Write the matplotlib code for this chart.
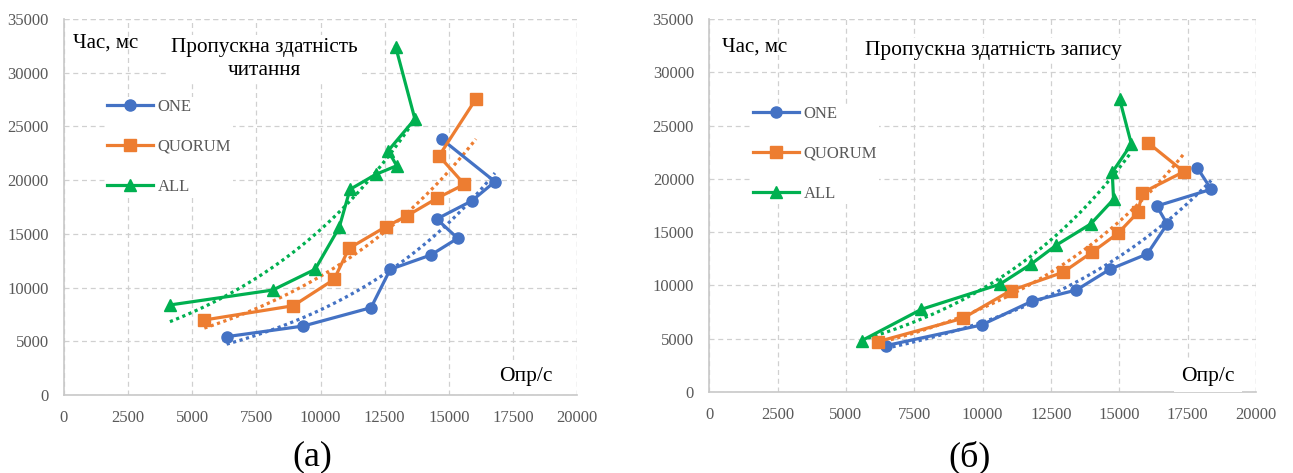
import numpy as np
import matplotlib
matplotlib.use("Agg")
import matplotlib.pyplot as plt

# ---------------- data ----------------
series_names = ["ONE", "QUORUM", "ALL"]

# (a) read throughput
read_one_x = [6340, 9330, 11970, 12720, 14300, 15350, 14530, 15890, 16800, 14720]
read_one_y = [5430, 6420, 8130, 11700, 13030, 14590, 16380, 18060, 19860, 23830]
read_quorum_x = [5470, 8940, 10530, 11110, 12550, 13360, 14530, 15610, 14620, 16060]
read_quorum_y = [6980, 8310, 10760, 13650, 15670, 16660, 18300, 19610, 22250, 27560]
read_all_x = [4130, 8140, 9790, 10730, 11150, 12160, 12970, 12640, 13680, 12930]
read_all_y = [8380, 9770, 11700, 15600, 19140, 20540, 21340, 22740, 25690, 32420]

# (б) write throughput
write_one_x = [6460, 9960, 11820, 13430, 14650, 16020, 16750, 16370, 18360, 17850]
write_one_y = [4350, 6290, 8540, 9570, 11510, 12950, 15760, 17450, 19020, 21050]
write_quorum_x = [6160, 9280, 11020, 12940, 14000, 14950, 15680, 15840, 17360, 16050]
write_quorum_y = [4720, 6920, 9510, 11230, 13110, 14890, 16860, 18700, 20670, 23390]
write_all_x = [5570, 7760, 10620, 11760, 12700, 13950, 14790, 14740, 15440, 15010]
write_all_y = [4810, 7760, 10100, 11980, 13790, 15760, 18080, 20610, 23270, 27490]

x_ticks = [0, 2500, 5000, 7500, 10000, 12500, 15000, 17500, 20000]
y_ticks = [0, 5000, 10000, 15000, 20000, 25000, 30000, 35000]

title_a = "Пропускна здатність\nчитання"
title_b = "Пропускна здатність запису"
y_label = "Час, мс"
x_label = "Опр/с"
panel_a = "(а)"
panel_b = "(б)"

# ---------------- style ----------------
colors = ["#4472C4", "#ED7D31", "#00B050"]
markers = ["o", "s", "^"]
serif = ["Liberation Serif", "DejaVu Serif"]
plt.rcParams["font.family"] = serif
tick_color = "#595959"
grid_color = "#d0d0d0"
white_box = dict(facecolor="white", edgecolor="none", pad=2)

fig = plt.figure(figsize=(12.93, 4.73), dpi=100)
fig.patch.set_facecolor("white")

ax_a = fig.add_axes([64 / 1293, 1 - 395 / 473, 513 / 1293, 376 / 473])
ax_b = fig.add_axes([709.3 / 1293, 1 - 392 / 473, 546.7 / 1293, 373 / 473])


def style_axes(ax):
    ax.set_xlim(0, 20000)
    ax.set_ylim(0, 35000)
    ax.set_xticks(x_ticks)
    ax.set_yticks(y_ticks)
    ax.set_xticklabels([str(v) for v in x_ticks])
    ax.set_yticklabels([str(v) for v in y_ticks])
    ax.tick_params(length=0, labelsize=12, colors=tick_color, pad=11)
    ax.grid(True, color=grid_color, linestyle=(0, (4, 3)), linewidth=0.9)
    ax.set_axisbelow(True)
    for s in ["top", "right"]:
        ax.spines[s].set_visible(False)
    for s in ["left", "bottom"]:
        ax.spines[s].set_color("#c8c8c8")
        ax.spines[s].set_linewidth(1.2)
    ax.axhline(35000, color=grid_color, linestyle=(0, (4, 3)), linewidth=0.9, zorder=0.5)
    ax.axvline(20000, color=grid_color, linestyle=(0, (4, 3)), linewidth=0.9, zorder=0.5)


def draw_series(ax, xs, ys):
    handles = []
    for x, y, c, m, name in zip(xs, ys, colors, markers, series_names):
        x = np.asarray(x, float)
        y = np.asarray(y, float)
        h, = ax.plot(x, y, color=c, marker=m, markersize=8, linewidth=2.3,
                     label=name, zorder=3, clip_on=False)
        handles.append(h)
        # exponential trendline (Excel-like)
        b, lna = np.polyfit(x, np.log(y), 1)
        xt = np.linspace(x.min(), x.max(), 100)
        ax.plot(xt, np.exp(lna + b * xt), color=c, linestyle=(0, (1, 1.1)),
                linewidth=2.3, zorder=2)
    return handles


style_axes(ax_a)
style_axes(ax_b)
ha = draw_series(ax_a, [read_one_x, read_quorum_x, read_all_x],
                 [read_one_y, read_quorum_y, read_all_y])
hb = draw_series(ax_b, [write_one_x, write_quorum_x, write_all_x],
                 [write_one_y, write_quorum_y, write_all_y])

leg_kw = dict(loc="upper left", bbox_transform=fig.transFigure, frameon=True,
              facecolor="white", edgecolor="none", framealpha=1,
              labelspacing=1.45, handlelength=2.8, handletextpad=0.25,
              prop={"family": serif, "size": 12}, labelcolor=tick_color,
              borderaxespad=0, borderpad=0.1, fancybox=False)
ax_a.legend(handles=ha, bbox_to_anchor=(105 / 1293, 1 - 97 / 473), **leg_kw)
ax_b.legend(handles=hb, bbox_to_anchor=(751 / 1293, 1 - 104 / 473), **leg_kw)

# texts
fig.text(73 / 1293, 1 - 43 / 473, y_label, fontsize=15, va="center", ha="left")
fig.text(722 / 1293, 1 - 47 / 473, y_label, fontsize=15, va="center", ha="left")
fig.text(264 / 1293, 1 - 59 / 473, title_a, fontsize=15.3, va="center", ha="center",
         linespacing=1.3, bbox=white_box)
fig.text(993 / 1293, 1 - 50 / 473, title_b, fontsize=15.5, va="center", ha="center",
         bbox=white_box)
fig.text(526 / 1293, 1 - 376 / 473, x_label, fontsize=15.5, va="center", ha="center",
         bbox=dict(facecolor="white", edgecolor="none", pad=5))
fig.text(1208 / 1293, 1 - 376 / 473, x_label, fontsize=15.5, va="center", ha="center",
         bbox=dict(facecolor="white", edgecolor="none", pad=5))
fig.text(312 / 1293, 1 - 457 / 473, panel_a, fontsize=26, va="center", ha="center")
fig.text(970 / 1293, 1 - 457 / 473, panel_b, fontsize=26, va="center", ha="center")

fig.savefig("out.png", dpi=100, facecolor="white")
